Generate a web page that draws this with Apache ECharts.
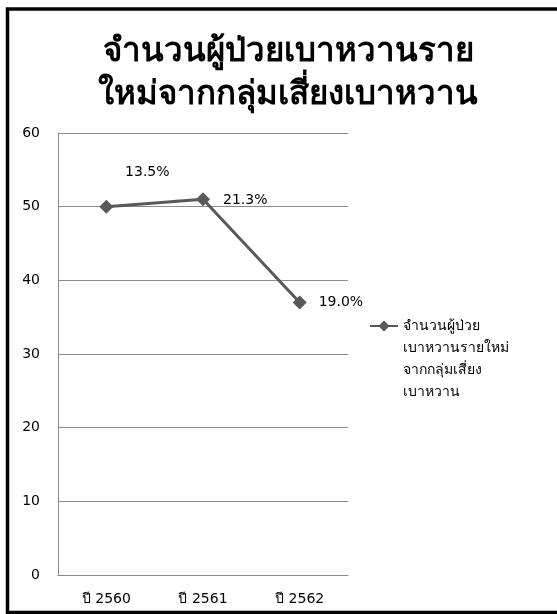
<!DOCTYPE html>
<html>
<head>
<meta charset="utf-8">
<script src="https://cdn.jsdelivr.net/npm/echarts@6/dist/echarts.min.js"></script>
<style>
  html, body { margin: 0; padding: 0; background: #ffffff; }
  #chart { width: 557px; height: 614px; }
</style>
</head>
<body>
<div id="chart"></div>
<script>
// Diabetes new cases from risk group, by Buddhist-era year
const categories = ['ปี 2560', 'ปี 2561', 'ปี 2562'];
const caseCounts = [50, 51, 37];
const percentLabels = ['13.5%', '21.3%', '19.0%'];
const yTicks = { min: 0, max: 60, interval: 10 };
const seriesName = 'จำนวนผู้ป่วยเบาหวานรายใหม่จากกลุ่มเสี่ยงเบาหวาน';
const legendLines = ['จำนวนผู้ป่วย', 'เบาหวานรายใหม่', 'จากกลุ่มเสี่ยง', 'เบาหวาน'];
const titleLines = ['จำนวนผู้ป่วยเบาหวานราย', 'ใหม่จากกลุ่มเสี่ยงเบาหวาน'];

const FONT = 'Tahoma, "DejaVu Sans", sans-serif';
const LINE = '#595959';
const GRID = '#8c8c8c';

// per-point label placement
const labelPlacement = [
  { position: 'top', offset: [41, -15] },
  { position: 'right', offset: [8, 1] },
  { position: 'right', offset: [7, 0] }
];

const seriesData = caseCounts.map((v, i) => ({
  value: v,
  label: {
    show: true,
    formatter: percentLabels[i],
    position: labelPlacement[i].position,
    offset: labelPlacement[i].offset
  }
}));

// The legend icon sits at the vertical middle of its text block; leading
// blank lines put the first text line on the icon's level.
const legendText = ['', '', ''].concat(legendLines).join('\n');

const chart = echarts.init(document.getElementById('chart'), null, { renderer: 'canvas' });
chart.setOption({
  backgroundColor: '#ffffff',
  animation: false,
  title: {
    text: titleLines.join('\n'),
    left: 283,
    top: 26,
    textAlign: 'center',
    textStyle: {
      fontFamily: FONT,
      fontSize: 33,
      fontWeight: 'bold',
      color: '#000000',
      lineHeight: 43
    }
  },
  grid: { left: 58, right: 209, top: 133, bottom: 39 },
  legend: {
    left: 364,
    top: 244,
    itemWidth: 28,
    itemHeight: 14,
    itemGap: 0,
    data: [{ name: seriesName }],
    formatter: () => legendText,
    textStyle: {
      fontFamily: FONT,
      fontSize: 14,
      color: '#000000',
      lineHeight: 22
    }
  },
  xAxis: {
    type: 'category',
    data: categories,
    boundaryGap: true,
    axisLine: { show: true, lineStyle: { color: GRID, width: 1 } },
    axisTick: { show: false },
    axisLabel: { fontFamily: FONT, fontSize: 14, color: '#000000', margin: 17 }
  },
  yAxis: {
    type: 'value',
    min: yTicks.min,
    max: yTicks.max,
    interval: yTicks.interval,
    axisLine: { show: true, lineStyle: { color: GRID, width: 1 } },
    axisTick: { show: false },
    splitLine: { show: true, lineStyle: { color: GRID, width: 1 } },
    axisLabel: { fontFamily: FONT, fontSize: 14, color: '#000000', margin: 18 }
  },
  series: [{
    name: seriesName,
    type: 'line',
    data: seriesData,
    symbol: 'diamond',
    symbolSize: 14,
    lineStyle: { color: LINE, width: 3 },
    itemStyle: { color: LINE },
    label: { fontFamily: FONT, fontSize: 14, color: '#000000', distance: 5 }
  }],
  graphic: [{
    type: 'rect',
    z: 100,
    silent: true,
    shape: { x: 7.5, y: 9, width: 620, height: 603.5 },
    style: { fill: null, stroke: '#000000', lineWidth: 3.5 }
  }]
});
</script>
</body>
</html>
